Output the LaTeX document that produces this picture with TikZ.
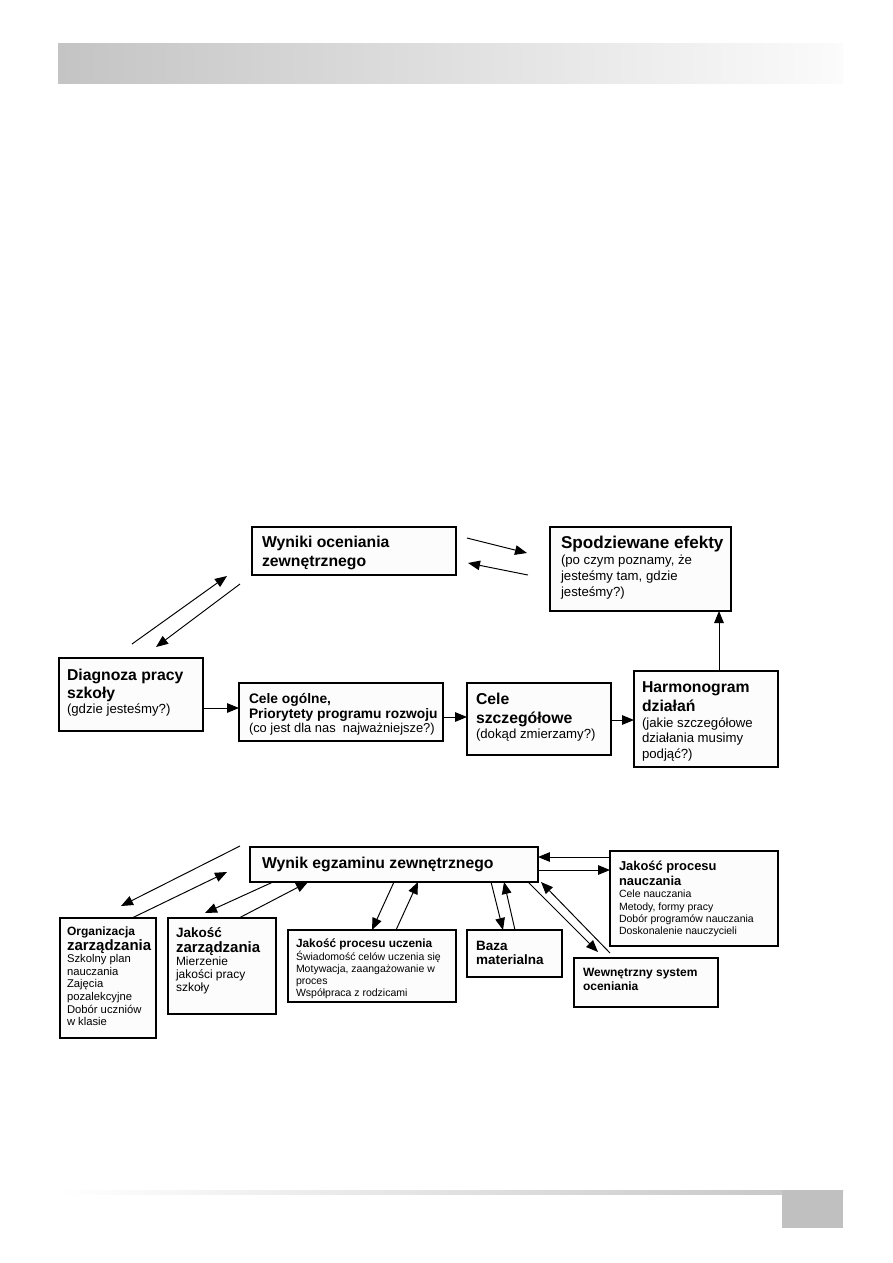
\documentclass[tikz,border=0pt]{standalone}
\usepackage{fontspec}
\setmainfont{Liberation Sans}
\usetikzlibrary{arrows.meta,calc}
\setlength{\parindent}{0pt}
\setlength{\parskip}{0pt}
\definecolor{hdr}{HTML}{C4C4C4}
\definecolor{hdrlight}{HTML}{FBFBFB}
\definecolor{boxfill}{HTML}{FCFCFC}
\definecolor{sq}{HTML}{C0C0C0}
\newcommand\fB[2]{\fontsize{#1}{#2}\selectfont\bfseries}
\newcommand\fR[2]{\fontsize{#1}{#2}\selectfont\mdseries}
\begin{document}
\begin{tikzpicture}[x=0.6667pt,y=-0.6667pt,
  box/.style={draw=black, line width=0.7pt, fill=boxfill, inner sep=0pt, outer sep=0pt, anchor=north west},
  txt/.style={anchor=north west, inner sep=0pt, outer sep=0pt, align=flush left, text width=#1},
  arr/.style={line width=0.65pt, -{Triangle[length=8pt,width=6.4pt]}}]
\useasboundingbox (0,0) rectangle (893,1263);
% header and footer
\shade[left color=hdr, right color=hdrlight] (58,43) rectangle (843,83);
\shade[left color=white, right color=hdr] (58,1190) rectangle (843,1194);
\fill[sq] (782,1190) rectangle (843,1228);

% ---------- top diagram ----------
\node[box, minimum width=136pt, minimum height=32pt] (wyniki) at (252,527) {};
\node[txt=132pt] (wyniki-t) at ($(wyniki.north west)+(10,9)$)
  {\fB{10.5}{13}Wyniki oceniania\par zewnętrznego\par};

\node[box, minimum width=120.67pt, minimum height=56pt] (spodz) at (550,527) {};
\node[txt=118pt] (spodz-t) at ($(spodz.north west)+(11,9)$)
  {\fB{11.4}{12.7}Spodziewane efekty\par \fR{8.8}{10.6}(po czym poznamy, że\par jesteśmy tam, gdzie\par jesteśmy?)\par};

\node[box, minimum width=96pt, minimum height=48.67pt] (diag) at (59,658) {};
\node[txt=94pt] (diag-t) at ($(diag.north west)+(8,11)$)
  {\fB{10.5}{12.3}Diagnoza pracy\par szkoły\par \fR{8.8}{10}(gdzie jesteśmy?)\par};

\node[box, minimum width=136pt, minimum height=38.67pt] (ogolne) at (239,683) {};
\node[txt=134pt] (ogolne-t) at ($(ogolne.north west)+(10,10)$)
  {\fB{9.2}{10.2}Cele ogólne,\par Priorytety programu rozwoju\par \fR{8.6}{9.6}(co jest dla nas\ \ najważniejsze?)\par};

\node[box, minimum width=96pt, minimum height=48pt] (szczeg) at (467,683) {};
\node[txt=94pt] (szczeg-t) at ($(szczeg.north west)+(9,10)$)
  {\fB{10.5}{12.7}Cele\par szczegółowe\par \fR{8.8}{10.3}(dokąd zmierzamy?)\par};

\node[box, minimum width=96pt, minimum height=64pt] (harm) at (634,671) {};
\node[txt=94pt] (harm-t) at ($(harm.north west)+(8,11)$)
  {\fB{10.5}{12.7}Harmonogram\par działań\par \fR{8.8}{10.3}(jakie szczegółowe\par działania musimy\par podjąć?)\par};

\coordinate (t1a) at (132,644); \coordinate (t1b) at (227,576);
\coordinate (t2a) at (240,584); \coordinate (t2b) at (156,647);
\coordinate (t3a) at (467,538); \coordinate (t3b) at (527,553);
\coordinate (t4a) at (528,575); \coordinate (t4b) at (468,563);
\draw[arr] (t1a) -- (t1b);
\draw[arr] (t2a) -- (t2b);
\draw[arr] (t3a) -- (t3b);
\draw[arr] (t4a) -- (t4b);
\draw[arr] ($(diag.north east)+(0,50)$) -- ($(ogolne.north west)+(0,25)$);
\draw[arr] ($(ogolne.north east)+(0,34)$) -- ($(szczeg.north west)+(0,34)$);
\draw[arr] ($(szczeg.north east)+(0,37)$) -- ($(harm.north west)+(0,49)$);
\draw[arr] ($(harm.north west)+(85,0)$) -- ($(spodz.south west)+(169,0)$);

% ---------- bottom diagram ----------
\node[box, minimum width=192pt, minimum height=23.33pt] (wynik) at (250,847) {};
\node[txt=190pt] (wynik-t) at ($(wynik.north west)+(12,10)$)
  {\fB{10.5}{12.7}Wynik egzaminu zewnętrznego\par};

\node[box, minimum width=64pt, minimum height=80pt] (org) at (60,918) {};
\node[txt=62pt] (org-t) at ($(org.north west)+(7,9)$)
  {\fB{8}{9}Organizacja\par \fB{10}{9.6}zarządzania\par \fR{7.5}{8.4}Szkolny plan\par nauczania\par Zajęcia\par pozalekcyjne\par Dobór uczniów\par w klasie\par};

\node[box, minimum width=72pt, minimum height=64pt] (jz) at (168,918) {};
\node[txt=70pt] (jz-t) at ($(jz.north west)+(8,10)$)
  {\fB{9}{9.5}Jakość\par \fB{10}{9.5}zarządzania\par \fR{8}{8.8}Mierzenie\par jakości pracy\par szkoły\par};

\node[box, minimum width=112pt, minimum height=48pt] (jpu) at (288,930) {};
\node[txt=110pt] (jpu-t) at ($(jpu.north west)+(8,9)$)
  {\fB{7.9}{9}Jakość procesu uczenia\par \fR{7}{8.2}Świadomość celów uczenia się\par Motywacja, zaangażowanie w\par proces\par Współpraca z rodzicami\par};

\node[box, minimum width=63.33pt, minimum height=31.33pt] (baza) at (467,930) {};
\node[txt=62pt] (baza-t) at ($(baza.north west)+(9,11)$)
  {\fB{9}{9.5}Baza\par materialna\par};

\node[box, minimum width=96pt, minimum height=32.67pt] (wso) at (574,958) {};
\node[txt=94pt] (wso-t) at ($(wso.north west)+(9,10)$)
  {\fB{8}{9.5}Wewnętrzny system\par oceniania\par};

\node[box, minimum width=112pt, minimum height=63.33pt] (jpn) at (610,851) {};
\node[txt=110pt] (jpn-t) at ($(jpn.north west)+(9,10)$)
  {\fB{8.6}{10}Jakość procesu\par nauczania\par \fR{7}{8.2}Cele nauczania\par Metody, formy pracy\par Dobór programów nauczania\par Doskonalenie nauczycieli\par};

\coordinate (b1a) at (240,846); \coordinate (b1b) at (121,906);
\coordinate (b2b) at (227,872);
\coordinate (b3b) at (205,913);
\coordinate (b9b) at (598,952);
\coordinate (b10a) at (610,953);
\draw[arr] (b1a) -- (b1b);
\draw[arr] ($(org.north west)+(72,0)$) -- (b2b);
\draw[arr] ($(wynik.south west)+(23,0)$) -- (b3b);
\draw[arr] ($(jz.north west)+(71,0)$) -- ($(wynik.south west)+(58,0)$);
\draw[arr] ($(wynik.south west)+(144,0)$) -- ($(jpu.north west)+(84,0)$);
\draw[arr] ($(jpu.north west)+(108,0)$) -- ($(wynik.south west)+(168,0)$);
\draw[arr] ($(wynik.south west)+(241,0)$) -- ($(baza.north west)+(36,0)$);
\draw[arr] ($(baza.north west)+(48,0)$) -- ($(wynik.south west)+(254,0)$);
\draw[arr] ($(wynik.south west)+(278,0)$) -- (b9b);
\draw[arr] (b10a) -- ($(wynik.south east)+(3,0)$);
\draw[arr] ($(jpn.north west)+(0,6)$) -- ($(wynik.north east)+(0,10)$);
\draw[arr] ($(wynik.north east)+(0,23)$) -- ($(jpn.north west)+(0,19)$);
\end{tikzpicture}
\end{document}
